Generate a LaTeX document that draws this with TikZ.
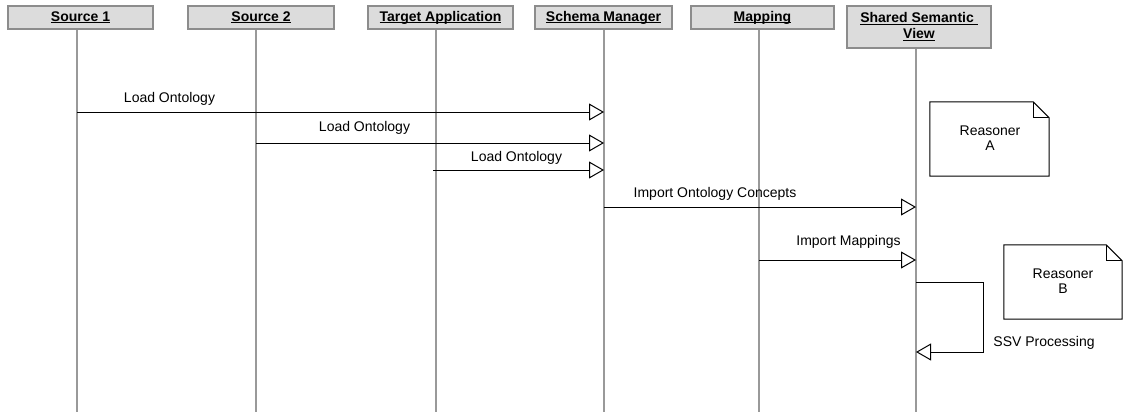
\documentclass[tikz,border=0pt]{standalone}
\usepackage{fontspec}
\setmainfont{Liberation Sans}
\usetikzlibrary{arrows.meta}

% underline at a fixed depth below the baseline
\newcommand\hdrul[1]{\setbox0\hbox{#1}\rlap{\rule[-2.2pt]{\wd0}{1.1pt}}\box0}

\definecolor{lifegray}{HTML}{999999}
\definecolor{hdrfill}{HTML}{DCDCDC}
\definecolor{hdrline}{HTML}{8C8C8C}

\begin{document}
\begin{tikzpicture}[x=1pt,y=-1pt,
  hdr/.style={draw=hdrline, line width=2pt, fill=hdrfill, inner sep=0pt,
              font=\fontsize{14}{15}\selectfont\bfseries, align=center,
              minimum height=23pt},
  lifeline/.style={draw=lifegray, line width=2pt},
  msg/.style={draw=black, line width=1pt,
              -{Triangle[length=15pt,width=17pt,fill=white,line width=1pt]}},
  lbl/.style={font=\fontsize{14}{15}\selectfont, inner sep=0pt},
  notebody/.style={inner sep=0pt, font=\fontsize{14}{15}\selectfont, align=center},
  noteline/.style={draw=black, line width=1pt, line join=miter}
]
\useasboundingbox (0,0) rectangle (1123,412);

% participants
\node[hdr, minimum width=145pt] (src1) at (80.5,17.5) {\hdrul{Source 1}};
\node[hdr, minimum width=146pt] (src2) at (261,17.5) {\hdrul{Source 2}};
\node[hdr, minimum width=145pt] (tgt)  at (440.5,17.5) {\hdrul{Target Application}};
\node[hdr, minimum width=137pt] (sch)  at (603.5,17.5) {\hdrul{Schema Manager}};
\node[hdr, minimum width=143pt] (map)  at (762.5,17.5) {\hdrul{Mapping}};
\node[hdr, minimum width=144pt, minimum height=42pt] (ssv) at (919,27)
  {\hdrul{Shared Semantic\ }\\[1pt]\hdrul{View}};

% lifeline ends
\coordinate (b1) at (77,412);
\coordinate (b2) at (256,412);
\coordinate (b3) at (436,412);
\coordinate (b4) at (604,412);
\coordinate (b5) at (759,412);
\coordinate (b6) at (916,412);

\draw[lifeline] (src1.south -| b1) -- (b1);
\draw[lifeline] (src2.south -| b2) -- (b2);
\draw[lifeline] (tgt.south -| b3) -- (b3);
\draw[lifeline] (sch.south -| b4) -- (b4);
\draw[lifeline] (map.south -| b5) -- (b5);
\draw[lifeline] (ssv.south -| b6) -- (b6);

% message end points
\coordinate (m1s) at (77,112);   \coordinate (m1e) at (604,112);
\coordinate (m2s) at (256,143);  \coordinate (m2e) at (604,143);
\coordinate (m3s) at (433,170);  \coordinate (m3e) at (604,170);
\coordinate (m4s) at (604,207);  \coordinate (m4e) at (916,207);
\coordinate (m5s) at (759,260);  \coordinate (m5e) at (916,260);
\coordinate (m6s) at (916,282);  \coordinate (m6e) at (916,352);
\coordinate (m6r) at (983,282);

\draw[msg] (m1s) -- (m1e);
\draw[msg] (m2s) -- (m2e);
\draw[msg] (m3s) -- (m3e);
\draw[msg] (m4s) -- (m4e);
\draw[msg] (m5s) -- (m5e);
\draw[msg] (m6s) -- (m6r) |- (m6e);

% message labels
\node[lbl] (l1) at (169.5,99) {Load Ontology};
\node[lbl] (l2) at (364.5,128) {Load Ontology};
\node[lbl] (l3) at (516.5,158) {Load Ontology};
\node[lbl] (l4) at (715,194) {Import Ontology Concepts};
\node[lbl] (l5) at (848.5,242) {Import Mappings};
\node[lbl] (l6) at (1044,343) {SSV Processing};

% notes with folded corner
\node[notebody, minimum width=119pt, minimum height=74pt] (noteA) at (989.5,139) {};
\node[notebody] (noteAtext) at (990,138) {Reasoner\\A};
\draw[noteline] (noteA.north west) -- ([xshift=-16pt]noteA.north east)
  -- ([yshift=-16pt]noteA.north east) -- (noteA.south east)
  -- (noteA.south west) -- cycle;
\draw[noteline] ([xshift=-16pt]noteA.north east) -- ([xshift=-16pt,yshift=-16pt]noteA.north east)
  -- ([yshift=-16pt]noteA.north east);

\node[notebody, minimum width=118pt, minimum height=74pt] (noteB) at (1063,282) {};
\node[notebody] (noteBtext) at (1063,281) {Reasoner\\B};
\draw[noteline] (noteB.north west) -- ([xshift=-16pt]noteB.north east)
  -- ([yshift=-16pt]noteB.north east) -- (noteB.south east)
  -- (noteB.south west) -- cycle;
\draw[noteline] ([xshift=-16pt]noteB.north east) -- ([xshift=-16pt,yshift=-16pt]noteB.north east)
  -- ([yshift=-16pt]noteB.north east);
\end{tikzpicture}
\end{document}
